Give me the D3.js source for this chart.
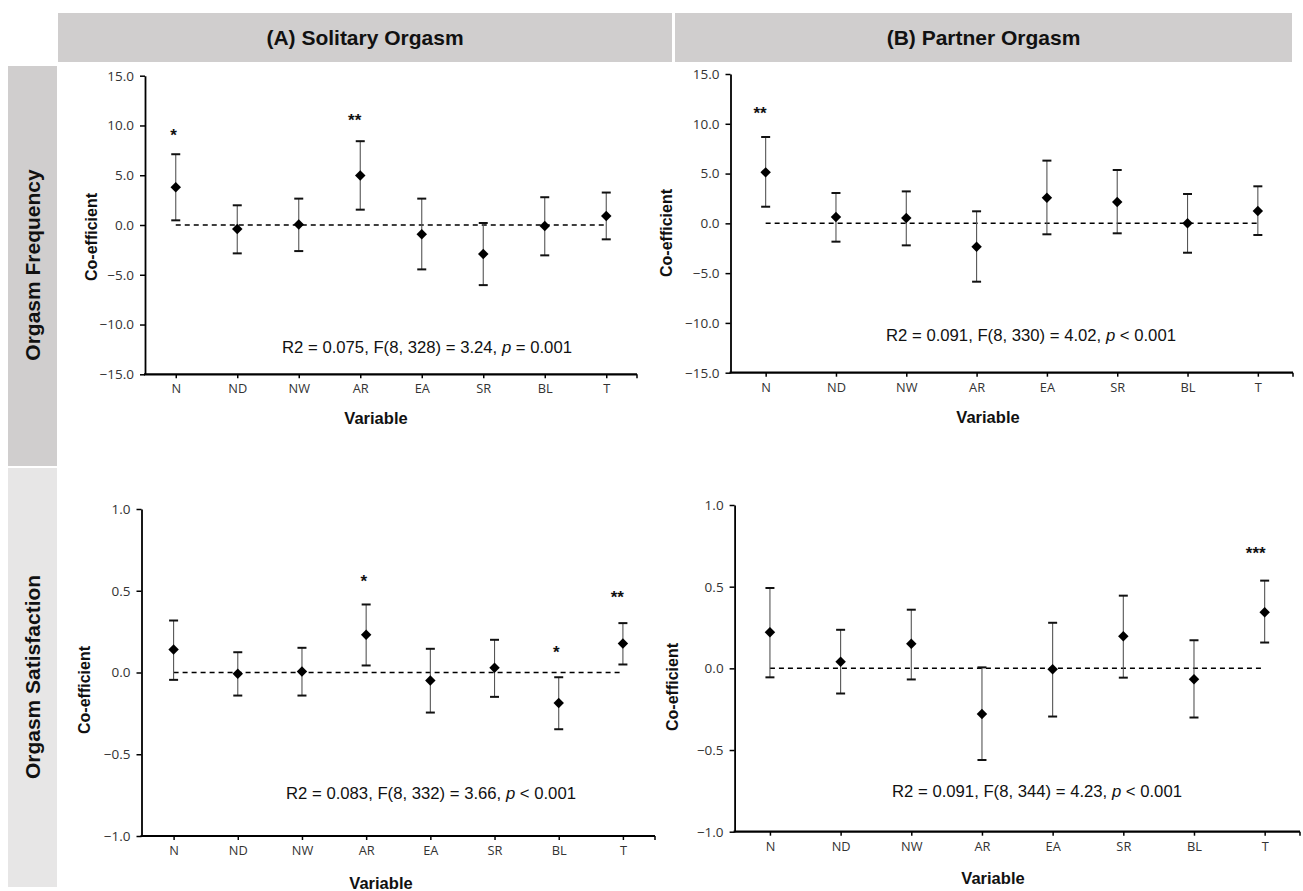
<!DOCTYPE html>
<html><head><meta charset="utf-8">
<script src="https://cdn.jsdelivr.net/npm/d3@7"></script>
<style>
html,body{margin:0;padding:0;background:#fff;}
svg{display:block;}
</style></head>
<body>
<svg id="chart" width="1303" height="891"></svg>
<script>
// ---------- DATA ----------
const categories = ["N","ND","NW","AR","EA","SR","BL","T"];
const columnTitles = ["(A) Solitary Orgasm","(B) Partner Orgasm"];
const rowTitles = ["Orgasm Frequency","Orgasm Satisfaction"];
const freqTicks = [-15,-10,-5,0,5,10,15];
const satTicks = [-1,-0.5,0,0.5,1];

// (A) Solitary – Frequency
const soloFreqCoef = [3.8,-0.4,0.05,4.97,-0.94,-2.92,-0.1,0.91];
const soloFreqLow  = [0.47,-2.85,-2.62,1.54,-4.46,-6.04,-3.05,-1.44];
const soloFreqHigh = [7.11,1.98,2.65,8.42,2.65,0.2,2.79,3.26];
const soloFreqStars = ["*","","","**","","","",""];
const soloFreqStarAt = [9.4,null,null,10.9,null,null,null,null];
// (B) Partner – Frequency
const partFreqCoef = [5.12,0.64,0.54,-2.34,2.58,2.14,0.0,1.24];
const partFreqLow  = [1.67,-1.84,-2.21,-5.86,-1.1,-1.0,-2.95,-1.17];
const partFreqHigh = [8.67,3.05,3.21,1.21,6.3,5.36,2.95,3.72];
const partFreqStars = ["**","","","","","","",""];
const partFreqStarAt = [11.45,null,null,null,null,null,null,null];
// (A) Solitary – Satisfaction
const soloSatCoef = [0.141,-0.008,0.006,0.231,-0.049,0.029,-0.186,0.178];
const soloSatLow  = [-0.045,-0.141,-0.141,0.043,-0.245,-0.149,-0.347,0.049];
const soloSatHigh = [0.318,0.124,0.151,0.416,0.145,0.2,-0.029,0.302];
const soloSatStars = ["","","","*","","","*","**"];
const soloSatStarAt = [null,null,null,0.58,null,null,0.143,0.48];
// (B) Partner – Satisfaction
const partSatCoef = [0.221,0.041,0.15,-0.279,-0.006,0.197,-0.066,0.344];
const partSatLow  = [-0.055,-0.154,-0.068,-0.561,-0.295,-0.057,-0.301,0.158];
const partSatHigh = [0.492,0.236,0.359,0.006,0.279,0.445,0.172,0.537];
const partSatStars = ["","","","","","","","***"];
const partSatStarAt = [null,null,null,null,null,null,null,0.725];

// model statistics
const statR2 = ["0.075","0.091","0.083","0.091"];
const statDf = ["8, 328","8, 330","8, 332","8, 344"];
const statF  = ["3.24","4.02","3.66","4.23"];
const statP  = ["= 0.001","< 0.001","< 0.001","< 0.001"];

// ---------- LAYOUT ----------
const svg = d3.select("#chart");
const headerFill = "#d0cece", satFill = "#e7e6e6";

// column headers
const colBoxes = [[58,672],[675,1292]];
colBoxes.forEach((b,i)=>{
  svg.append("rect").attr("x",b[0]).attr("y",13).attr("width",b[1]-b[0]).attr("height",49).attr("fill",headerFill);
  svg.append("text").attr("x",(b[0]+b[1])/2).attr("y",38).attr("dy","0.35em")
    .attr("text-anchor","middle").attr("font-family","'Liberation Sans', Arial, sans-serif")
    .attr("font-weight","bold").attr("font-size",21).attr("fill","#111").text(columnTitles[i]);
});
// row headers
const rowBoxes = [[66,466,headerFill],[468,887,satFill]];
rowBoxes.forEach((b,i)=>{
  svg.append("rect").attr("x",8).attr("y",b[0]).attr("width",49).attr("height",b[1]-b[0]).attr("fill",b[2]);
  const cy = i===0 ? 265 : 677;
  svg.append("text").attr("transform",`translate(33,${cy}) rotate(-90)`).attr("dy","0.35em")
    .attr("text-anchor","middle").attr("font-family","'Liberation Sans', Arial, sans-serif")
    .attr("font-weight","bold").attr("font-size",21).attr("fill","#111").text(rowTitles[i]);
});

const panels = [
  {coef:soloFreqCoef, low:soloFreqLow, high:soloFreqHigh, stars:soloFreqStars, starAt:soloFreqStarAt,
   domain:[-15,15], ticks:freqTicks, L:145, R:637, T:75.7, B:374.3,
   varX:376, varY:418, coX:91, coY:237, stX:427, stY:347},
  {coef:partFreqCoef, low:partFreqLow, high:partFreqHigh, stars:partFreqStars, starAt:partFreqStarAt,
   domain:[-15,15], ticks:freqTicks, L:730.5, R:1293, T:74, B:372.7,
   varX:988, varY:417, coX:666, coY:233, stX:1031, stY:335},
  {coef:soloSatCoef, low:soloSatLow, high:soloSatHigh, stars:soloSatStars, starAt:soloSatStarAt,
   domain:[-1,1], ticks:satTicks, L:141.5, R:655, T:509, B:836,
   varX:381, varY:883, coX:84, coY:690, stX:431, stY:793},
  {coef:partSatCoef, low:partSatLow, high:partSatHigh, stars:partSatStars, starAt:partSatStarAt,
   domain:[-1,1], ticks:satTicks, L:734.6, R:1300, T:505, B:831.7,
   varX:993, varY:878, coX:672, coY:687, stX:1037, stY:791}
];

const tickFont = "'Open Sans', 'DejaVu Sans', sans-serif";
const boldFont = "'Liberation Sans', Arial, sans-serif";

panels.forEach((p,pi)=>{
  const g = svg.append("g");
  const x = d3.scalePoint().domain(categories).range([p.L,p.R]).padding(0.5);
  const y = d3.scaleLinear().domain(p.domain).range([p.B,p.T]);

  // y axis
  const ya = g.append("g").attr("transform",`translate(${p.L},0)`)
    .call(d3.axisLeft(y).tickValues(p.ticks).tickFormat(d3.format(".1f")).tickSize(5).tickPadding(6).tickSizeOuter(0));
  ya.select(".domain").attr("stroke","#000").attr("stroke-width",1.8);
  ya.selectAll(".tick line").attr("stroke","#000").attr("stroke-width",1.5);
  ya.selectAll(".tick text").attr("font-family",tickFont).attr("font-size",13.5).attr("fill","#333");

  // x axis
  const xa = g.append("g").attr("transform",`translate(0,${p.B})`)
    .call(d3.axisBottom(x).tickSize(4).tickPadding(6).tickSizeOuter(0));
  xa.select(".domain").attr("d",`M${p.L-1},0H${p.R}`).attr("stroke","#000").attr("stroke-width",2.2);
  xa.selectAll(".tick line").attr("stroke","#000").attr("stroke-width",1.5);
  xa.selectAll(".tick text").attr("font-family",tickFont).attr("font-size",12.8).attr("fill","#333");
  xa.append("line").attr("x1",p.R).attr("x2",p.R).attr("y1",0).attr("y2",4).attr("stroke","#000").attr("stroke-width",1.5);

  // zero line
  g.append("line").attr("x1",x(categories[0])).attr("x2",x(categories[categories.length-1]))
    .attr("y1",y(0)).attr("y2",y(0)).attr("stroke","#000").attr("stroke-width",1.5)
    .attr("stroke-dasharray","5,4");

  const rows = categories.map((c,i)=>({c, v:p.coef[i], lo:p.low[i], hi:p.high[i], s:p.stars[i], sa:p.starAt[i]}));

  // error bars
  g.selectAll(".eb").data(rows).join("line")
    .attr("x1",d=>x(d.c)).attr("x2",d=>x(d.c)).attr("y1",d=>y(d.lo)).attr("y2",d=>y(d.hi))
    .attr("stroke","#555").attr("stroke-width",1.1);
  ["lo","hi"].forEach(k=>{
    g.selectAll(".cap"+k).data(rows).join("line")
      .attr("x1",d=>x(d.c)-4.5).attr("x2",d=>x(d.c)+4.5).attr("y1",d=>y(d[k])).attr("y2",d=>y(d[k]))
      .attr("stroke","#111").attr("stroke-width",2);
  });

  // diamonds
  const sym = d3.symbol().type(d3.symbolSquare).size(55);
  g.selectAll(".pt").data(rows).join("path")
    .attr("d",sym).attr("transform",d=>`translate(${x(d.c)},${y(d.v)}) rotate(45)`).attr("fill","#000");

  // significance stars
  g.selectAll(".star").data(rows.filter(d=>d.s)).join("text")
    .attr("x",d=>x(d.c)+1).attr("y",d=>y(d.sa)).attr("dy","0.55em")
    .attr("text-anchor","end").attr("font-family",boldFont).attr("font-weight","bold")
    .attr("font-size",17).attr("fill","#111").text(d=>d.s);

  // axis titles
  g.append("text").attr("x",p.varX).attr("y",p.varY).attr("dy","0.35em").attr("text-anchor","middle")
    .attr("font-family",boldFont).attr("font-weight","bold").attr("font-size",16.5).attr("fill","#111").text("Variable");
  g.append("text").attr("transform",`translate(${p.coX},${p.coY}) rotate(-90)`).attr("dy","0.35em")
    .attr("text-anchor","middle").attr("font-family",boldFont).attr("font-weight","bold")
    .attr("font-size",16).attr("fill","#111").text("Co-efficient");

  // statistics text
  const st = g.append("text").attr("x",p.stX).attr("y",p.stY).attr("dy","0.35em").attr("text-anchor","middle")
    .attr("font-family",boldFont).attr("font-size",16.7).attr("fill","#111");
  st.append("tspan").text(`R2 = ${statR2[pi]}, F(${statDf[pi]}) = ${statF[pi]}, `);
  st.append("tspan").attr("font-style","italic").text("p");
  st.append("tspan").text(` ${statP[pi]}`);
});
</script>
</body></html>
